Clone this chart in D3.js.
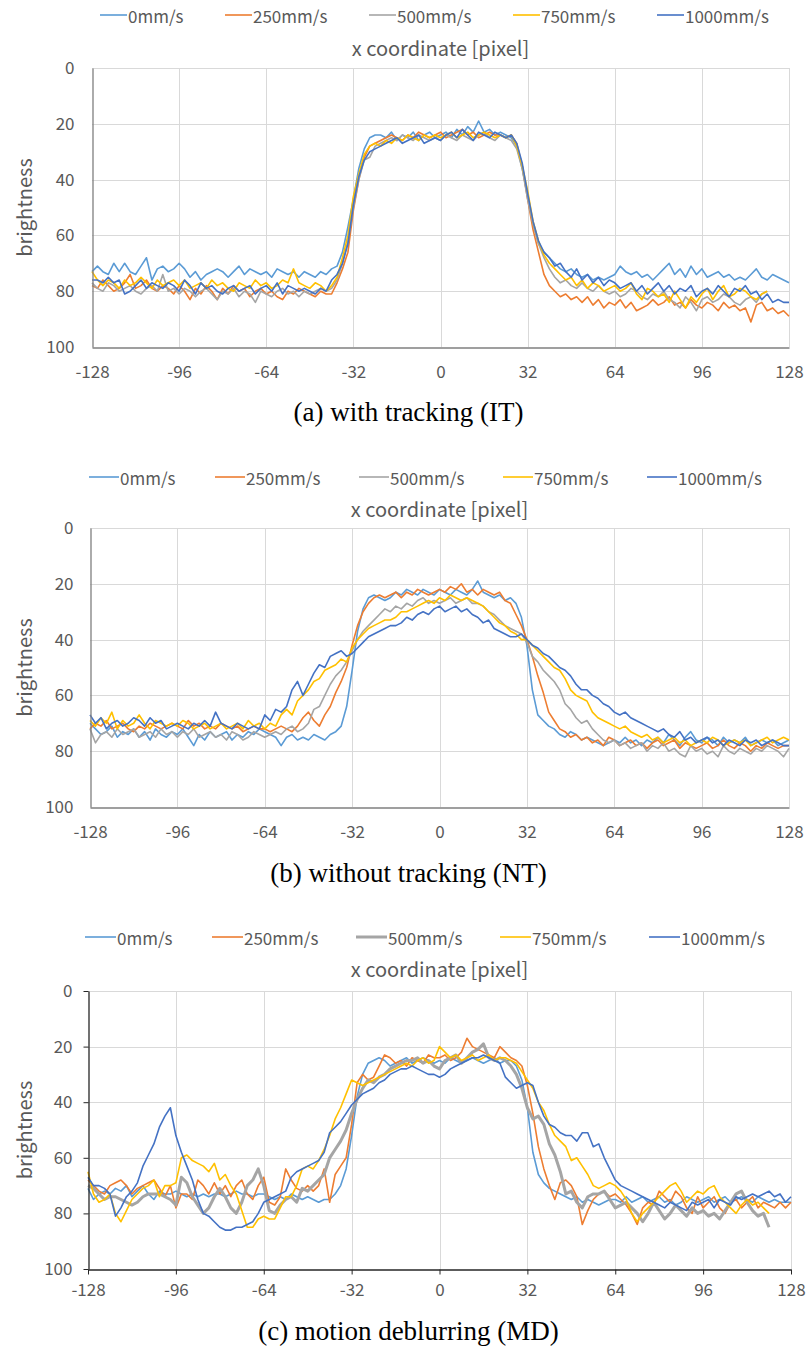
<!DOCTYPE html>
<html>
<head>
<meta charset="utf-8">
<script src="https://cdn.jsdelivr.net/npm/d3@7"></script>
<style>
  html, body { margin: 0; padding: 0; background: #ffffff; }
  svg { display: block; }
</style>
</head>
<body>
<svg id="chart" width="806" height="1349"></svg>
<script>
// Brightness profiles across a bright bar, sampled every 2 pixels from x = -128 to 128.
const xPixels = d3.range(-128, 129, 2);

const speedLabels = ["0mm/s", "250mm/s", "500mm/s", "750mm/s", "1000mm/s"];
const xTickValues = [-128, -96, -64, -32, 0, 32, 64, 96, 128];
const yTickValues = [0, 20, 40, 60, 80, 100];

// (a) with tracking
const IT_0 = [
73,71,73,74,70,73,70,73,74,71,68,76,72,71,73,72,
70,72,75,73,76,74,73,72,73,75,73,71,74,72,73,74,
73,75,72,73,74,73,75,73,74,75,73,74,72,71,66,57,
47,36,29,25,24,24,25,23,26,24,25,23,26,24,23,25,
24,23,25,22,24,21,23,19,23,22,24,23,24,25,28,36,
46,56,63,66,68,70,72,73,72,74,75,74,76,75,76,75,
74,71,73,74,73,75,74,76,74,72,70,74,72,75,71,74,
72,75,74,73,75,74,76,75,76,74,72,75,76,74,75,76,
77];
const IT_250 = [
78,79,76,78,80,79,77,74,79,78,76,79,80,78,79,81,
78,80,83,79,81,78,80,83,79,81,78,80,79,82,80,79,
81,80,82,83,80,81,79,80,81,82,80,81,81,77,72,66,
51,40,32,28,27,26,25,24,25,26,24,25,23,24,25,24,
23,25,24,23,22,24,23,25,24,23,24,24,25,24,27,35,
47,58,66,74,78,80,82,81,83,82,84,82,85,83,86,84,
85,83,86,84,87,86,85,83,85,84,82,85,84,86,83,85,
86,84,85,87,84,86,85,87,86,91,85,84,87,86,88,87,
89];
const IT_500 = [
77,79,80,77,78,80,79,78,80,81,79,78,80,74,80,79,
81,79,80,82,80,79,81,83,80,81,79,82,80,81,84,80,
81,82,80,79,81,80,82,80,81,80,79,80,79,76,70,62,
50,40,33,32,28,27,26,25,26,24,25,26,24,25,26,25,
26,24,25,26,24,25,26,24,23,25,26,24,25,26,29,36,
47,56,63,68,72,75,77,76,78,79,77,79,80,78,80,81,
80,82,81,79,80,82,83,81,82,80,83,84,86,82,84,87,
83,82,84,83,81,82,84,85,83,82,84,81,80,null,null,null,
null];
const IT_750 = [
73,76,78,76,77,79,76,78,77,75,77,79,76,78,77,76,
78,76,79,78,77,79,76,78,77,79,80,77,78,79,76,78,
77,79,78,76,77,72,77,78,79,77,78,80,78,75,68,60,
46,38,31,28,27,28,26,27,25,26,24,25,26,24,25,24,
25,24,23,25,24,23,25,24,23,24,25,24,25,24,28,35,
44,55,62,67,70,72,74,76,75,78,76,79,77,78,80,79,
78,80,79,77,81,83,79,80,82,81,84,80,83,86,82,84,
81,79,83,80,78,82,81,79,80,82,83,81,80,null,null,null,
null];
const IT_1000 = [
76,76,77,75,77,76,81,80,78,76,79,77,78,79,77,78,
80,76,78,81,77,79,78,80,81,79,78,80,79,78,81,79,
78,80,77,81,78,79,80,79,80,81,79,80,76,74,70,63,
49,39,33,30,29,28,27,26,25,27,26,25,24,27,26,25,
26,24,23,25,22,24,26,23,24,25,23,24,25,24,27,34,
45,55,62,66,68,71,70,73,75,72,76,74,77,75,78,76,
77,79,78,77,80,78,81,79,77,80,78,81,79,80,78,82,
80,79,81,78,80,82,79,80,78,81,80,83,81,84,83,84,
84];

// (b) without tracking
const NT_0 = [
70,72,74,73,71,75,73,74,72,75,73,76,72,74,75,73,
74,72,75,78,74,76,73,75,74,73,76,74,75,73,74,72,
73,74,75,78,75,74,76,75,76,74,75,76,74,73,71,64,
51,37,29,25,24,25,26,25,23,24,22,23,24,22,23,24,
22,23,24,22,23,24,22,19,23,24,25,24,26,25,27,32,
42,58,67,69,71,72,74,75,73,74,76,75,76,77,78,77,
76,77,75,77,76,78,76,77,75,77,74,76,78,75,73,76,
77,75,76,78,75,77,76,77,75,78,77,76,77,76,78,77,
76];
const NT_250 = [
72,70,71,69,72,71,70,72,73,71,72,70,71,72,71,70,
71,72,69,71,70,72,71,72,70,71,72,71,73,72,71,72,
72,73,72,71,72,73,71,68,66,69,71,67,64,59,55,50,
42,35,30,27,25,24,25,24,23,25,23,24,22,23,24,23,
22,23,21,22,20,23,22,24,22,23,24,23,26,27,31,35,
40,46,53,59,66,69,72,73,75,74,76,75,77,76,78,75,
76,78,77,76,78,77,79,77,76,78,77,76,79,77,78,79,
78,77,79,78,76,78,79,77,78,80,78,79,77,78,79,78,
78];
const NT_500 = [
72,77,74,73,75,72,74,73,72,75,74,73,75,72,74,73,
75,73,74,72,75,74,73,75,74,76,73,74,76,75,73,74,
75,74,73,74,72,71,73,72,70,65,64,60,56,53,51,48,
44,40,37,35,33,31,29,30,28,29,27,28,26,25,27,26,
27,26,25,27,26,25,27,27,28,30,31,33,35,36,37,38,
41,46,48,51,53,55,58,63,65,68,70,69,72,74,76,77,
76,78,77,79,78,77,80,78,79,77,80,79,81,82,78,80,
79,81,80,82,78,80,81,79,80,81,79,80,78,79,80,82,
79];
const NT_750 = [
69,71,68,70,66,72,69,71,70,67,70,72,69,70,71,70,
71,69,70,72,71,70,72,71,70,72,71,70,72,69,71,70,
72,70,71,67,65,67,62,60,58,55,54,51,50,49,47,48,
43,40,38,36,35,34,33,33,32,30,30,29,28,27,26,27,
25,26,24,25,26,25,26,27,28,30,32,34,35,37,38,40,
40,42,44,46,48,50,51,54,58,60,61,62,66,68,69,70,
71,72,71,73,74,75,74,76,75,77,76,75,77,76,78,77,
76,77,75,76,78,77,76,77,76,78,77,76,75,77,76,75,
76];
const NT_1000 = [
67,70,68,72,70,69,71,70,68,69,71,68,70,69,72,71,
70,71,72,70,71,69,71,66,70,71,72,70,71,72,71,72,
67,69,65,66,64,58,55,60,56,52,49,50,46,45,44,46,
45,43,41,39,38,37,36,35,35,34,32,33,31,30,31,29,
28,30,29,28,30,29,31,32,34,33,36,37,38,39,39,38,
40,42,43,45,46,48,50,51,53,56,58,58,60,61,63,64,
66,67,66,68,69,70,71,72,73,72,74,75,73,76,75,77,
76,75,77,76,78,76,77,78,76,77,76,78,77,76,77,78,
78];

// (c) motion deblurring
const MD_0 = [
71,75,73,72,73,71,72,70,74,72,70,73,75,72,73,73,
72,73,74,73,74,73,74,73,73,74,73,72,73,73,74,73,
73,74,75,74,75,73,74,75,74,75,76,75,75,73,70,64,
52,38,30,26,25,24,25,27,26,25,24,26,25,24,25,26,
25,26,24,25,26,25,24,25,26,25,24,26,25,25,27,32,
42,58,66,69,71,72,73,74,75,74,76,75,76,77,76,75,
75,76,74,76,75,74,76,75,74,76,75,77,76,74,75,76,
75,74,76,75,74,76,75,74,75,76,74,75,76,75,76,76,
76];
const MD_250 = [
68,70,72,73,70,69,68,70,73,71,70,69,68,71,74,70,
78,73,73,75,68,70,73,69,73,70,74,70,68,73,75,70,
67,76,77,74,64,68,71,72,70,72,70,64,76,66,63,60,
48,33,30,32,31,27,23,24,26,25,27,24,25,26,23,24,
24,23,25,24,22,17,20,21,22,23,24,20,22,24,25,27,
34,44,56,64,70,75,69,68,70,74,84,79,75,73,72,74,
73,75,77,80,84,78,76,77,72,74,76,72,74,78,80,74,
78,76,74,78,80,76,75,78,76,74,78,76,77,78,76,78,
76];
const MD_500 = [
70,71,73,75,74,74,75,76,77,76,74,73,73,73,74,75,
77,67,69,74,77,80,78,74,71,74,78,80,76,70,68,64,
70,79,80,77,75,74,76,71,72,70,68,66,60,57,54,50,
44,39,35,32,33,31,30,28,27,26,25,25,24,26,25,27,
28,25,24,23,26,24,22,21,19,24,25,24,25,27,30,35,
42,46,45,48,55,59,65,73,72,76,78,74,73,73,72,75,
78,77,76,78,80,83,80,76,79,82,80,77,79,81,78,80,
79,81,80,82,79,76,73,72,76,79,81,80,85,null,null,null,
null];
const MD_750 = [
65,73,76,75,73,80,83,79,75,73,71,70,68,74,70,70,
69,60,59,61,62,63,65,62,68,66,70,73,79,85,85,82,
81,82,82,78,74,74,70,64,63,64,61,57,52,46,42,37,
32,33,34,33,32,31,30,29,28,27,26,27,25,24,26,25,
20,22,24,23,25,24,23,25,24,23,25,24,24,25,26,29,
32,35,40,43,48,52,54,56,61,60,63,66,70,71,70,69,
70,72,75,80,83,80,78,76,74,72,70,69,72,76,74,72,
73,71,70,74,76,78,80,77,75,77,76,78,80,null,null,null,
null];
const MD_1000 = [
67,70,70,71,73,81,78,74,72,69,63,59,55,49,45,42,
52,58,63,68,75,80,81,83,85,86,86,85,85,84,83,80,
76,75,74,73,72,67,65,64,63,62,61,58,51,49,47,44,
41,39,37,36,35,33,32,30,29,28,28,27,28,29,30,30,
31,30,28,27,26,25,24,24,23,24,25,26,31,33,35,34,
33,34,40,45,48,49,51,52,52,54,51,51,56,55,60,64,
68,70,71,72,73,74,75,76,77,78,76,77,78,79,76,77,
76,75,78,75,76,77,74,75,74,73,74,73,72,74,73,76,
74];

const seriesColors = ["#5B9BD5", "#ED7D31", "#A5A5A5", "#FFC000", "#4472C4"];

const panels = [
  {
    series: [IT_0, IT_250, IT_500, IT_750, IT_1000],
    caption: "(a) with tracking (IT)",
    left: 92, right: 789, top: 68, bottom: 347,
    legendY: 15, legendX: [100, 225, 369, 513, 657], legendLen: 27,
    titleY: 47, captionY: 421,
    axisColor: "#7F7F7F", tickLen: 0, xPad: 18, yPad: 18,
    widths: [1.6, 1.6, 1.6, 1.6, 1.6]
  },
  {
    series: [NT_0, NT_250, NT_500, NT_750, NT_1000],
    caption: "(b) without tracking (NT)",
    left: 90, right: 789, top: 528, bottom: 807,
    legendY: 477, legendX: [89, 215, 359, 503, 647], legendLen: 30,
    titleY: 508, captionY: 882,
    axisColor: "#7F7F7F", tickLen: 0, xPad: 18, yPad: 17,
    widths: [1.6, 1.6, 1.6, 1.6, 1.6]
  },
  {
    series: [MD_0, MD_250, MD_500, MD_750, MD_1000],
    caption: "(c) motion deblurring (MD)",
    left: 88, right: 791, top: 991, bottom: 1269,
    legendY: 937, legendX: [85, 212, 356, 500, 649], legendLen: 31,
    titleY: 968, captionY: 1340,
    axisColor: "#262626", tickLen: 5, xPad: 9, yPad: 11,
    widths: [1.6, 1.6, 3, 1.6, 1.6]
  }
];

const svg = d3.select("#chart");
const labelFont = "'Noto Sans CJK JP', 'Noto Sans', sans-serif";
const textGray = "#595959";

panels.forEach(p => {
  const g = svg.append("g");
  const x = d3.scaleLinear().domain([-128, 128]).range([p.left, p.right]);
  const y = d3.scaleLinear().domain([0, 100]).range([p.top, p.bottom]);

  // gridlines
  g.append("g")
    .selectAll("line")
    .data(yTickValues.filter(v => v < 100))
    .join("line")
    .attr("x1", p.left).attr("x2", p.right)
    .attr("y1", d => Math.round(y(d)) + 0.5).attr("y2", d => Math.round(y(d)) + 0.5)
    .attr("stroke", "#D9D9D9").attr("stroke-width", 1);
  g.append("g")
    .selectAll("line")
    .data(xTickValues.filter(v => v > -128))
    .join("line")
    .attr("x1", d => Math.round(x(d)) + 0.5).attr("x2", d => Math.round(x(d)) + 0.5)
    .attr("y1", p.top).attr("y2", p.bottom)
    .attr("stroke", "#D9D9D9").attr("stroke-width", 1);

  // series
  const line = d3.line()
    .defined(d => d[1] != null)
    .x(d => x(d[0]))
    .y(d => y(d[1]));
  p.series.forEach((vals, i) => {
    g.append("path")
      .datum(xPixels.map((px, k) => [px, vals[k]]))
      .attr("fill", "none")
      .attr("stroke", seriesColors[i])
      .attr("stroke-width", p.widths[i])
      .attr("stroke-linejoin", "round")
      .attr("d", line);
  });

  // axes
  const xAxis = d3.axisBottom(x)
    .tickValues(xTickValues)
    .tickFormat(d => String(d))
    .tickSize(p.tickLen)
    .tickSizeOuter(0)
    .tickPadding(p.xPad);
  const gx = g.append("g")
    .attr("transform", `translate(0,${Math.round(p.bottom) + 0.5})`)
    .call(xAxis);
  gx.select(".domain").attr("stroke", p.axisColor).attr("stroke-width", 1.3);
  gx.selectAll(".tick line").attr("stroke", p.axisColor);
  gx.selectAll(".tick text")
    .attr("fill", textGray)
    .style("font-family", labelFont)
    .style("font-size", "17px");

  const yAxis = d3.axisLeft(y)
    .tickValues(yTickValues)
    .tickFormat(d => String(d))
    .tickSize(p.tickLen)
    .tickSizeOuter(0)
    .tickPadding(p.yPad);
  const gy = g.append("g")
    .attr("transform", `translate(${Math.round(p.left) + 0.5},0)`)
    .call(yAxis);
  gy.select(".domain").attr("stroke", p.axisColor).attr("stroke-width", 1.3);
  gy.selectAll(".tick line").attr("stroke", p.axisColor);
  gy.selectAll(".tick text")
    .attr("fill", textGray)
    .style("font-family", labelFont)
    .style("font-size", "17px");

  // y axis title
  g.append("text")
    .attr("transform", `translate(23,${(p.top + p.bottom) / 2}) rotate(-90)`)
    .attr("text-anchor", "middle")
    .attr("dominant-baseline", "central")
    .attr("fill", textGray)
    .style("font-family", labelFont)
    .style("font-size", "20px")
    .text("brightness");

  // x axis title, placed above the plot
  g.append("text")
    .attr("x", (p.left + p.right) / 2)
    .attr("y", p.titleY)
    .attr("text-anchor", "middle")
    .attr("dominant-baseline", "central")
    .attr("fill", textGray)
    .style("font-family", labelFont)
    .style("font-size", "20px")
    .text("x coordinate [pixel]");

  // legend
  speedLabels.forEach((lab, i) => {
    const lx = p.legendX[i];
    g.append("line")
      .attr("x1", lx).attr("x2", lx + p.legendLen)
      .attr("y1", p.legendY).attr("y2", p.legendY)
      .attr("stroke", seriesColors[i])
      .attr("stroke-width", p.widths[i]);
    g.append("text")
      .attr("x", lx + p.legendLen + 1)
      .attr("y", p.legendY)
      .attr("dominant-baseline", "central")
      .attr("fill", textGray)
      .style("font-family", labelFont)
      .style("font-size", "17px")
      .text(lab);
  });

  // caption
  g.append("text")
    .attr("x", 408.5)
    .attr("y", p.captionY)
    .attr("text-anchor", "middle")
    .attr("fill", "#000000")
    .style("font-family", "'Liberation Serif', 'Times New Roman', serif")
    .style("font-size", "27px")
    .text(p.caption);
});
</script>
</body>
</html>
